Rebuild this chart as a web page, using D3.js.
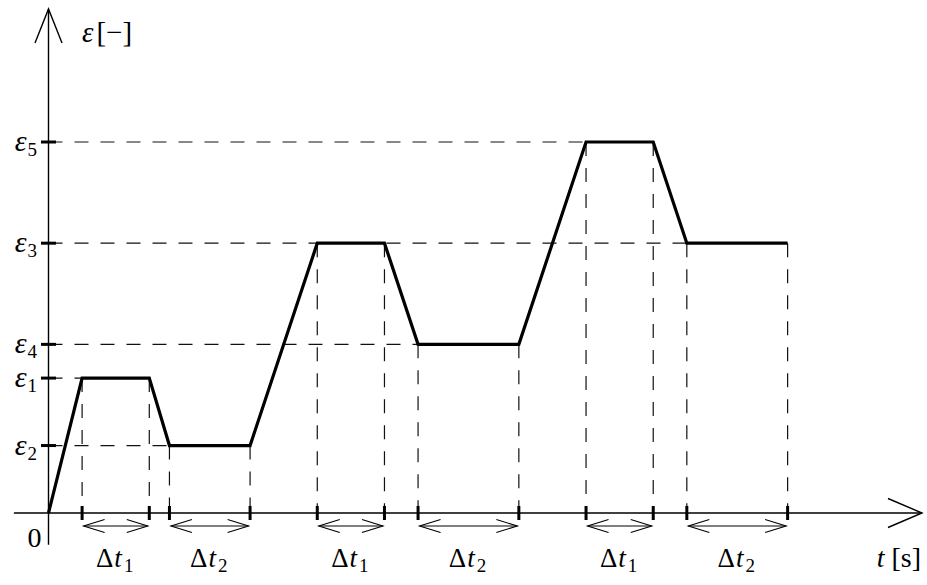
<!DOCTYPE html>
<html>
<head>
<meta charset="utf-8">
<script src="https://cdn.jsdelivr.net/npm/d3@7"></script>
</head>
<body style="margin:0">
<svg id="chart" width="927" height="585" font-family="Liberation Serif"></svg>
<script>
// Strain history: piecewise-linear loading path (time in arbitrary units, strain in levels)
const pathTimes  = [0, 1, 3, 3.6, 6, 8, 10, 11, 14, 16, 18, 19, 22];
const pathValues = [0, 2, 2, 1,   1, 4, 4,  2.5, 2.5, 5.5, 5.5, 4, 4];

// Named strain levels shown on the vertical axis
const levelNames  = ["1", "2", "3", "4", "5"];
const levelValues = [2, 1, 4, 2.5, 5.5];

// Time intervals marked under the time axis
const intervalStart = [1, 3.6, 8, 11, 16, 19];
const intervalEnd   = [3, 6, 10, 14, 18, 22];
const intervalIndex = ["1", "2", "1", "2", "1", "2"];

// Axis titles
const yTitle = "ε";
const yUnit = "[−]";
const xTitle = "t";
const xUnit = "[s]";
const originLabel = "0";

const FONT = "Liberation Serif";

const svg = d3.select("#chart");
const x = d3.scaleLinear().domain([0, 26]).range([48.5, 922]);
const y = d3.scaleLinear().domain([0, 5.5]).range([513, 142]);

const x0 = x(0), y0 = y(0);
const dash = "14,12";

// Plateau starts: the horizontal guide of each level runs to its last plateau start
const plateauStarts = [];
for (let i = 0; i < pathTimes.length - 1; i++) {
  if (pathValues[i] === pathValues[i + 1] && pathValues[i] !== 0) plateauStarts.push(i);
}
const guides = svg.append("g").attr("stroke", "#111").attr("stroke-width", 1.2)
  .attr("stroke-dasharray", dash).attr("fill", "none");

levelValues.forEach(v => {
  const ends = plateauStarts.filter(i => pathValues[i] === v).map(i => pathTimes[i]);
  const tEnd = d3.max(ends);
  guides.append("line")
    .attr("x1", x0).attr("y1", y(v))
    .attr("x2", x(tEnd)).attr("y2", y(v));
});

// Vertical guides from every corner of the path down to the time axis
pathTimes.forEach((t, i) => {
  if (i === 0) return;
  guides.append("line")
    .attr("x1", x(t)).attr("y1", y(pathValues[i]))
    .attr("x2", x(t)).attr("y2", y0);
});

// Axes with open arrowheads
const axes = svg.append("g").attr("stroke", "#000").attr("stroke-width", 1.4).attr("fill", "none");
axes.append("line").attr("x1", x0).attr("y1", y(-0.47)).attr("x2", x0).attr("y2", 9);
axes.append("path").attr("d", `M${x0 - 13.5},43 L${x0},9 L${x0 + 13.5},43`);
axes.append("line").attr("x1", x(-1.03)).attr("y1", y0).attr("x2", x(26)).attr("y2", y0);
axes.append("path").attr("d", `M${x(26) - 34},${y0 - 14.5} L${x(26)},${y0} L${x(26) - 34},${y0 + 14.5}`);

// Tick marks for levels and interval bounds
const ticks = svg.append("g").attr("stroke", "#000").attr("stroke-width", 3);
levelValues.forEach(v => {
  ticks.append("line").attr("x1", x0 - 7.5).attr("x2", x0 + 7.5).attr("y1", y(v)).attr("y2", y(v));
});
pathTimes.forEach((t, i) => {
  if (i === 0) return;
  ticks.append("line").attr("x1", x(t)).attr("x2", x(t)).attr("y1", y0 - 7).attr("y2", y0 + 7);
});

// Loading path
svg.append("path")
  .datum(pathTimes.map((t, i) => [t, pathValues[i]]))
  .attr("d", d3.line().x(d => x(d[0])).y(d => y(d[1])))
  .attr("fill", "none").attr("stroke", "#000").attr("stroke-width", 3.2)
  .attr("stroke-linejoin", "miter");

// Double-headed interval arrows and their labels
const arrows = svg.append("g").attr("stroke", "#000").attr("stroke-width", 1.1).attr("fill", "none");
const ay = y0 + 13;
intervalStart.forEach((s, k) => {
  const a = x(s) + 1.5, b = x(intervalEnd[k]) - 1.5;
  arrows.append("line").attr("x1", a).attr("x2", b).attr("y1", ay).attr("y2", ay);
  arrows.append("path").attr("d", `M${a + 21},${ay - 6.5} L${a},${ay} L${a + 21},${ay + 6.5}`);
  arrows.append("path").attr("d", `M${b - 21},${ay - 6.5} L${b},${ay} L${b - 21},${ay + 6.5}`);
  const lbl = svg.append("text")
    .attr("font-family", FONT).style("font-family", FONT)
    .attr("x", (x(s) + x(intervalEnd[k])) / 2 - 1).attr("y", 567)
    .attr("text-anchor", "middle").attr("font-size", 27);
  lbl.append("tspan").text("Δ");
  lbl.append("tspan").attr("font-style", "italic").attr("dx", 1).text("t");
  lbl.append("tspan").attr("font-size", 19).attr("dx", 2).attr("dy", 5).text(intervalIndex[k]);
});

// Level labels
levelValues.forEach((v, k) => {
  const lbl = svg.append("text")
    .attr("font-family", FONT).style("font-family", FONT)
    .attr("x", 37).attr("y", y(v) + 9)
    .attr("text-anchor", "end").attr("font-size", 30);
  lbl.append("tspan").attr("font-style", "italic").text("ε");
  lbl.append("tspan").attr("font-size", 19).attr("dx", 1).attr("dy", 5).text(levelNames[k]);
});

// Axis titles and origin
const yt = svg.append("text").attr("font-family", FONT).style("font-family", FONT)
  .attr("x", 82).attr("y", 42).attr("font-size", 29);
yt.append("tspan").attr("font-style", "italic").text(yTitle);
yt.append("tspan").attr("dx", 3).text(yUnit);

const xt = svg.append("text").attr("font-family", FONT).style("font-family", FONT)
  .attr("x", 921).attr("y", 567)
  .attr("text-anchor", "end").attr("font-size", 28);
xt.append("tspan").attr("font-style", "italic").text(xTitle);
xt.append("tspan").text(" ");
xt.append("tspan").text(xUnit);

svg.append("text").attr("font-family", FONT).style("font-family", FONT)
  .attr("x", 34.5).attr("y", 547).attr("text-anchor", "middle")
  .attr("font-size", 28).text(originLabel);
</script>
</body>
</html>
